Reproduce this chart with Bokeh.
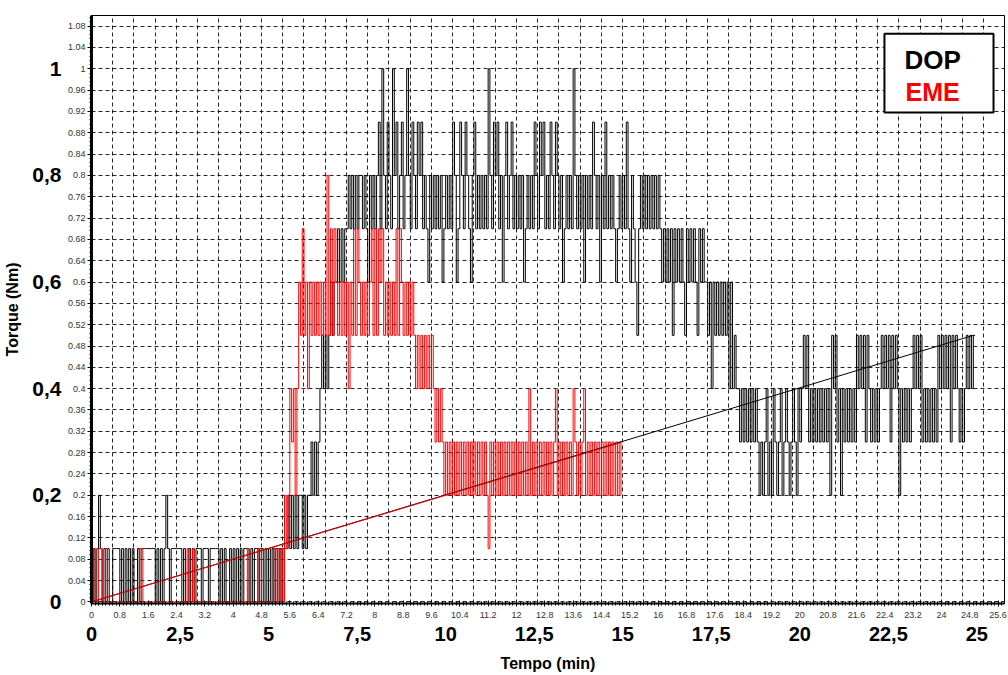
from bokeh.plotting import figure
from bokeh.models import (Range1d, LinearAxis, FixedTicker, CustomJSTickFormatter,
                          Grid, Label, BoxAnnotation)
from bokeh.embed import file_html
from bokeh.resources import INLINE

# ---------------- data (one sample every 0.05 min) -------------
SAMPLE_DT = 0.05  # minutes between samples

dop = [
    0.0, 0.1, 0.0, 0.1, 0.2, 0.1, 0.0, 0.1, 0.0, 0.1, 0.0, 0.0, 0.1, 0.1, 0.1, 0.1, 0.0, 0.1, 0.0, 0.1,   # 0 min
    0.0, 0.1, 0.0, 0.1, 0.0, 0.0, 0.1, 0.0, 0.1, 0.1, 0.1, 0.1, 0.1, 0.1, 0.1, 0.1, 0.0, 0.1, 0.0, 0.1,   # 1
    0.0, 0.1, 0.2, 0.1, 0.0, 0.1, 0.1, 0.1, 0.1, 0.1, 0.1, 0.0, 0.1, 0.0, 0.0, 0.1, 0.0, 0.1, 0.0, 0.1,   # 2
    0.1, 0.1, 0.0, 0.1, 0.1, 0.1, 0.0, 0.1, 0.1, 0.1, 0.1, 0.1, 0.0, 0.1, 0.0, 0.1, 0.0, 0.0, 0.1, 0.0,   # 3
    0.1, 0.0, 0.1, 0.0, 0.1, 0.0, 0.1, 0.1, 0.1, 0.0, 0.1, 0.0, 0.1, 0.1, 0.0, 0.1, 0.1, 0.0, 0.1, 0.0,   # 4
    0.1, 0.0, 0.1, 0.0, 0.1, 0.0, 0.1, 0.0, 0.1, 0.1, 0.1, 0.2, 0.1, 0.2, 0.1, 0.2, 0.1, 0.2, 0.2, 0.1,   # 5
    0.2, 0.1, 0.2, 0.2, 0.3, 0.2, 0.3, 0.2, 0.3, 0.4, 0.5, 0.4, 0.5, 0.4, 0.5, 0.6, 0.5, 0.6, 0.6, 0.7,   # 6
    0.6, 0.7, 0.6, 0.7, 0.7, 0.8, 0.7, 0.8, 0.7, 0.8, 0.7, 0.8, 0.8, 0.7, 0.8, 0.7, 0.6, 0.8, 0.7, 0.8,   # 7
    0.7, 0.8, 0.9, 0.7, 1.0, 0.8, 0.7, 0.9, 0.8, 0.7, 1.0, 0.8, 0.9, 0.7, 0.8, 0.9, 0.7, 0.8, 1.0, 0.8,   # 8
    0.7, 0.9, 0.8, 0.7, 0.9, 0.8, 0.9, 0.7, 0.8, 0.7, 0.6, 0.8, 0.7, 0.8, 0.7, 0.8, 0.7, 0.8, 0.6, 0.7,   # 9
    0.8, 0.7, 0.8, 0.7, 0.9, 0.8, 0.6, 0.7, 0.9, 0.8, 0.7, 0.9, 0.8, 0.7, 0.6, 0.8, 0.9, 0.7, 0.8, 0.7,   # 10
    0.8, 0.7, 0.8, 0.7, 1.0, 0.8, 0.7, 0.9, 0.8, 0.9, 0.7, 0.8, 0.6, 0.8, 0.9, 0.7, 0.8, 0.9, 0.7, 0.8,   # 11
    0.7, 0.8, 0.7, 0.8, 0.6, 0.7, 0.8, 0.7, 0.8, 0.7, 0.9, 0.8, 0.7, 0.9, 0.8, 0.9, 0.7, 0.8, 0.7, 0.9,   # 12
    0.8, 0.7, 0.9, 0.8, 0.7, 0.8, 0.6, 0.7, 0.8, 0.7, 0.8, 0.7, 1.0, 0.8, 0.7, 0.8, 0.7, 0.8, 0.6, 0.8,   # 13
    0.7, 0.8, 0.7, 0.9, 0.8, 0.7, 0.8, 0.6, 0.8, 0.7, 0.9, 0.7, 0.8, 0.7, 0.8, 0.7, 0.6, 0.7, 0.8, 0.7,   # 14
    0.8, 0.7, 0.9, 0.7, 0.6, 0.8, 0.7, 0.6, 0.5, 0.7, 0.8, 0.7, 0.8, 0.7, 0.8, 0.7, 0.8, 0.7, 0.8, 0.7,   # 15
    0.8, 0.7, 0.6, 0.7, 0.6, 0.7, 0.6, 0.7, 0.5, 0.7, 0.6, 0.7, 0.6, 0.7, 0.6, 0.5, 0.7, 0.6, 0.7, 0.6,   # 16
    0.7, 0.6, 0.5, 0.7, 0.6, 0.7, 0.6, 0.6, 0.5, 0.6, 0.4, 0.6, 0.5, 0.6, 0.5, 0.6, 0.5, 0.6, 0.5, 0.6,   # 17
    0.4, 0.6, 0.4, 0.5, 0.4, 0.4, 0.3, 0.4, 0.3, 0.4, 0.3, 0.4, 0.3, 0.4, 0.3, 0.4, 0.3, 0.2, 0.3, 0.2,   # 18
    0.3, 0.4, 0.2, 0.3, 0.2, 0.4, 0.3, 0.2, 0.3, 0.4, 0.2, 0.3, 0.4, 0.3, 0.2, 0.3, 0.4, 0.3, 0.2, 0.4,   # 19
    0.3, 0.4, 0.5, 0.4, 0.5, 0.3, 0.4, 0.3, 0.4, 0.3, 0.4, 0.3, 0.4, 0.3, 0.4, 0.3, 0.4, 0.2, 0.5, 0.4,   # 20
    0.5, 0.3, 0.4, 0.2, 0.4, 0.3, 0.4, 0.3, 0.4, 0.3, 0.4, 0.3, 0.5, 0.4, 0.5, 0.4, 0.5, 0.3, 0.5, 0.4,   # 21
    0.3, 0.4, 0.3, 0.4, 0.3, 0.4, 0.5, 0.4, 0.5, 0.4, 0.5, 0.3, 0.5, 0.4, 0.5, 0.4, 0.2, 0.4, 0.3, 0.4,   # 22
    0.3, 0.4, 0.3, 0.4, 0.5, 0.4, 0.5, 0.4, 0.5, 0.3, 0.4, 0.3, 0.4, 0.3, 0.4, 0.3, 0.4, 0.3, 0.5, 0.4,   # 23
    0.5, 0.4, 0.5, 0.4, 0.5, 0.3, 0.5, 0.4, 0.5, 0.4, 0.3, 0.4, 0.3, 0.4, 0.5, 0.4, 0.5, 0.4, 0.5, 0.5,   # 24
]

eme = [
    0.0, 0.1, 0.0, 0.0, 0.1, 0.1, 0.0, 0.0, 0.1, 0.0, 0.0, 0.0, 0.0, 0.0, 0.0, 0.0, 0.0, 0.0, 0.0, 0.0,   # 0 min
    0.0, 0.0, 0.0, 0.0, 0.0, 0.0, 0.0, 0.1, 0.1, 0.0, 0.0, 0.0, 0.0, 0.0, 0.0, 0.0, 0.0, 0.0, 0.0, 0.0,   # 1
    0.0, 0.0, 0.0, 0.0, 0.0, 0.0, 0.0, 0.0, 0.0, 0.0, 0.0, 0.0, 0.0, 0.0, 0.1, 0.0, 0.0, 0.1, 0.0, 0.0,   # 2
    0.0, 0.0, 0.0, 0.0, 0.0, 0.0, 0.0, 0.0, 0.0, 0.0, 0.0, 0.0, 0.0, 0.0, 0.0, 0.0, 0.0, 0.0, 0.0, 0.0,   # 3
    0.0, 0.0, 0.0, 0.0, 0.0, 0.0, 0.0, 0.0, 0.1, 0.0, 0.0, 0.0, 0.0, 0.0, 0.1, 0.1, 0.0, 0.0, 0.0, 0.0,   # 4
    0.0, 0.0, 0.0, 0.1, 0.0, 0.1, 0.0, 0.1, 0.0, 0.2, 0.1, 0.2, 0.4, 0.3, 0.4, 0.2, 0.4, 0.6, 0.5, 0.7,   # 5
    0.5, 0.6, 0.4, 0.6, 0.5, 0.6, 0.5, 0.6, 0.5, 0.6, 0.5, 0.6, 0.5, 0.8, 0.5, 0.7, 0.5, 0.7, 0.6, 0.5,   # 6
    0.6, 0.5, 0.6, 0.5, 0.6, 0.4, 0.6, 0.5, 0.7, 0.5, 0.7, 0.6, 0.5, 0.6, 0.5, 0.6, 0.5, 0.6, 0.7, 0.5,   # 7
    0.7, 0.5, 0.7, 0.6, 0.7, 0.5, 0.6, 0.5, 0.6, 0.5, 0.6, 0.5, 0.7, 0.5, 0.7, 0.6, 0.5, 0.6, 0.5, 0.6,   # 8
    0.5, 0.6, 0.5, 0.4, 0.5, 0.4, 0.5, 0.4, 0.5, 0.4, 0.5, 0.4, 0.5, 0.4, 0.3, 0.4, 0.3, 0.4, 0.3, 0.2,   # 9
    0.3, 0.2, 0.3, 0.2, 0.3, 0.2, 0.3, 0.2, 0.3, 0.2, 0.3, 0.2, 0.3, 0.2, 0.3, 0.2, 0.3, 0.2, 0.3, 0.2,   # 10
    0.3, 0.2, 0.3, 0.2, 0.1, 0.3, 0.2, 0.3, 0.2, 0.3, 0.2, 0.3, 0.2, 0.3, 0.2, 0.3, 0.2, 0.3, 0.2, 0.3,   # 11
    0.2, 0.3, 0.2, 0.3, 0.2, 0.3, 0.2, 0.4, 0.2, 0.3, 0.2, 0.3, 0.2, 0.3, 0.2, 0.3, 0.2, 0.3, 0.2, 0.3,   # 12
    0.2, 0.3, 0.4, 0.2, 0.3, 0.2, 0.3, 0.2, 0.3, 0.2, 0.3, 0.2, 0.4, 0.3, 0.2, 0.3, 0.2, 0.3, 0.4, 0.2,   # 13
    0.3, 0.2, 0.3, 0.2, 0.3, 0.2, 0.3, 0.2, 0.3, 0.2, 0.3, 0.2, 0.3, 0.2, 0.3, 0.2, 0.3, 0.2, 0.3, 0.2,   # 14
]

dop_t = [round(i * SAMPLE_DT, 3) for i in range(len(dop))]
eme_t = [round(i * SAMPLE_DT, 3) for i in range(len(eme))]

# straight reference lines (end points)
trend_dop_x = [0.0, 24.9]
trend_dop_y = [0.0, 0.5]
trend_eme_x = [0.0, 14.9]
trend_eme_y = [0.0, 0.298]

# tick labels
x_small_ticks = [round(i * 0.8, 1) for i in range(33)]          # 0 ... 25.6
x_minor_ticks = [round(i * 0.1, 1) for i in range(259)]
x_grid_ticks = [round(i * 0.6, 1) for i in range(43)]           # 0 ... 25.2
x_big_ticks = [0, 2.5, 5, 7.5, 10, 12.5, 15, 17.5, 20, 22.5, 25]
y_small_ticks = [round(i * 0.04, 2) for i in range(28)]         # 0 ... 1.08
y_minor_ticks = [round(i * 0.008, 3) for i in range(138)]
y_big_ticks = [0, 0.2, 0.4, 0.6, 0.8, 1]

FONT = "Liberation Sans"

# ---------------- figure ----------------
p = figure(width=1008, height=675, output_backend="svg", toolbar_location=None,
           x_range=Range1d(0, 25.78), y_range=Range1d(-0.003, 1.1),
           x_axis_type=None, y_axis_type=None,
           min_border_left=91, min_border_right=4, min_border_top=15, min_border_bottom=72)
p.outline_line_color = "black"
p.outline_line_width = 1
p.outline_line_alpha = 1
p.background_fill_color = "white"

small_fmt = CustomJSTickFormatter(code="return String(parseFloat(tick.toFixed(2)));")
big_fmt = CustomJSTickFormatter(code="return String(tick).replace('.', ',');")

# left axes
ys = LinearAxis(ticker=FixedTicker(ticks=y_small_ticks, minor_ticks=y_minor_ticks),
                formatter=small_fmt,
                major_label_text_font=FONT, major_label_text_font_size="9px",
                major_label_text_color="#333333", major_label_standoff=2,
                major_tick_out=4, major_tick_in=0, minor_tick_out=2, minor_tick_in=0,
                axis_line_width=3, major_tick_line_width=1, minor_tick_line_width=1)
p.add_layout(ys, "left")
yb = LinearAxis(ticker=FixedTicker(ticks=y_big_ticks, minor_ticks=[]), formatter=big_fmt,
                axis_line_color=None, major_tick_line_color=None, minor_tick_line_color=None,
                major_tick_out=0, major_tick_in=0, minor_tick_out=0, minor_tick_in=0,
                major_label_text_font=FONT, major_label_text_font_size="21px",
                major_label_text_font_style="bold", major_label_text_color="black",
                major_label_standoff=3,
                axis_label="Torque (Nm)", axis_label_text_font=FONT,
                axis_label_text_font_size="16px", axis_label_text_font_style="bold",
                axis_label_text_color="black", axis_label_standoff=8)
p.add_layout(yb, "left")

# bottom axes
xs = LinearAxis(ticker=FixedTicker(ticks=x_small_ticks, minor_ticks=x_minor_ticks),
                formatter=small_fmt,
                major_label_text_font=FONT, major_label_text_font_size="9px",
                major_label_text_color="#333333", major_label_standoff=5,
                major_tick_out=3, major_tick_in=3, minor_tick_out=2, minor_tick_in=2,
                axis_line_width=2)
p.add_layout(xs, "below")
xb = LinearAxis(ticker=FixedTicker(ticks=x_big_ticks, minor_ticks=[]), formatter=big_fmt,
                axis_line_color=None, major_tick_line_color=None, minor_tick_line_color=None,
                major_tick_out=0, major_tick_in=0, minor_tick_out=0, minor_tick_in=0,
                major_label_text_font=FONT, major_label_text_font_size="20px",
                major_label_text_font_style="bold", major_label_text_color="black",
                major_label_standoff=6,
                axis_label="Tempo (min)", axis_label_text_font=FONT,
                axis_label_text_font_size="16px", axis_label_text_font_style="bold",
                axis_label_text_color="black", axis_label_standoff=11)
p.add_layout(xb, "below")

# dashed grid
p.add_layout(Grid(dimension=0, ticker=FixedTicker(ticks=x_grid_ticks),
                  grid_line_color="black", grid_line_dash="4 3", grid_line_width=1,
                  grid_line_alpha=0.85))
p.add_layout(Grid(dimension=1, ticker=FixedTicker(ticks=y_small_ticks),
                  grid_line_color="black", grid_line_dash="4 3", grid_line_width=1,
                  grid_line_alpha=0.85))

# series
p.step(dop_t, dop, mode="after", line_color="black", line_width=1)
p.step(eme_t, eme, mode="after", line_color="#ff0000", line_width=1)
p.line(trend_dop_x, trend_dop_y, line_color="black", line_width=1)
p.line(trend_eme_x, trend_eme_y, line_color="#ff0000", line_width=1)

# legend box
p.add_layout(BoxAnnotation(left=22.39, right=25.47, top=1.066, bottom=0.918,
                           fill_color="white", fill_alpha=1,
                           line_color="black", line_width=2, line_alpha=1))
p.add_layout(Label(x=23.75, y=1.017, text="DOP", text_align="center", text_baseline="middle",
                   text_font=FONT, text_font_size="26px", text_font_style="bold",
                   text_color="black"))
p.add_layout(Label(x=23.75, y=0.957, text="EME", text_align="center", text_baseline="middle",
                   text_font=FONT, text_font_size="25px", text_font_style="bold",
                   text_color="#ff0000"))

open("out.html", "w").write(file_html(p, INLINE))
